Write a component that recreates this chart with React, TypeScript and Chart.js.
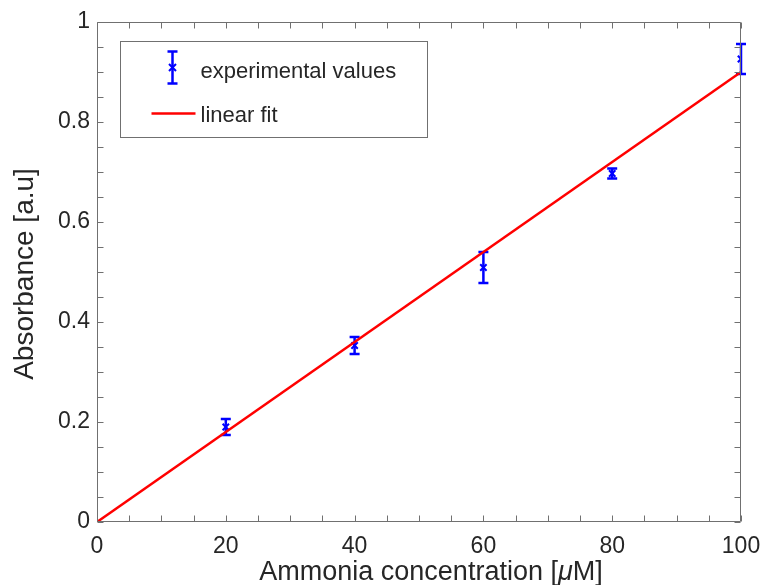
import React, { useEffect, useRef } from "react";
import { Chart, registerables } from "chart.js";

Chart.register(...registerables);

// ---- data ----
const concentrations = [20, 40, 60, 80, 100];
const absorbance = [0.19, 0.353, 0.509, 0.697, 0.926];
const absorbanceErr = [0.016, 0.017, 0.031, 0.01, 0.03];
const fitX = [0, 100];
const fitY = [0, 0.9];
const xTickValues = [0, 20, 40, 60, 80, 100];
const yTickValues = [0, 0.2, 0.4, 0.6, 0.8, 1];
const xMinorStep = 5;
const yMinorStep = 0.05;
const seriesLabels = ["experimental values", "linear fit"];
const xTitleParts = ["Ammonia concentration [", "μ", "M]"];
const yTitle = "Absorbance [a.u]";

const FONT = "'Liberation Sans', Arial, Helvetica, sans-serif";
const TEXT = "#262626";
const BLUE = "#0000ff";
const RED = "#ff0000";
const AXIS = "#707070";

function drawErrorBar(ctx: CanvasRenderingContext2D, x: number, yTop: number, yBot: number, cap: number) {
  ctx.beginPath();
  ctx.moveTo(x, yTop);
  ctx.lineTo(x, yBot);
  ctx.moveTo(x - cap / 2, yTop);
  ctx.lineTo(x + cap / 2, yTop);
  ctx.moveTo(x - cap / 2, yBot);
  ctx.lineTo(x + cap / 2, yBot);
  ctx.stroke();
}

const errorBarPlugin = {
  id: "errorBars",
  beforeDatasetsDraw(chart: any) {
    const { ctx, scales } = chart;
    const xs = scales.x, ys = scales.y;
    ctx.save();
    ctx.strokeStyle = BLUE;
    ctx.lineWidth = 2.5;
    concentrations.forEach((c, i) => {
      const px = xs.getPixelForValue(c);
      const top = ys.getPixelForValue(absorbance[i] + absorbanceErr[i]);
      const bot = ys.getPixelForValue(absorbance[i] - absorbanceErr[i]);
      drawErrorBar(ctx, px, top, bot, 10);
    });
    ctx.restore();
  },
};

const frameLegendPlugin = {
  id: "frameLegend",
  afterDatasetsDraw(chart: any) {
    const { ctx, chartArea, scales } = chart;
    const xs = scales.x, ys = scales.y;
    const L = Math.round(chartArea.left) + 0.5;
    const R = Math.round(chartArea.right) - 0.5;
    const T = Math.round(chartArea.top) + 0.5;
    const B = Math.round(chartArea.bottom) - 0.5;
    const tl = 6;
    ctx.save();
    ctx.strokeStyle = AXIS;
    ctx.lineWidth = 1;
    ctx.beginPath();
    ctx.rect(L, T, R - L, B - T);
    for (let v = xs.min; v <= xs.max + 1e-9; v += xMinorStep) {
      const px = Math.round(xs.getPixelForValue(v)) + 0.5;
      ctx.moveTo(px, B);
      ctx.lineTo(px, B - tl);
      ctx.moveTo(px, T);
      ctx.lineTo(px, T + tl);
    }
    for (let v = ys.min; v <= ys.max + 1e-9; v += yMinorStep) {
      const py = Math.round(ys.getPixelForValue(v)) + 0.5;
      ctx.moveTo(L, py);
      ctx.lineTo(L + tl, py);
      ctx.moveTo(R, py);
      ctx.lineTo(R - tl, py);
    }
    ctx.stroke();
    ctx.restore();
  },
  afterDraw(chart: any) {
    const { ctx, chartArea } = chart;
    ctx.save();
    // legend box
    const lx = chartArea.left + 23.5;
    const ly = chartArea.top + 19.5;
    const lw = 307;
    const lh = 96;
    ctx.fillStyle = "#ffffff";
    ctx.fillRect(lx, ly, lw, lh);
    ctx.strokeStyle = AXIS;
    ctx.lineWidth = 1;
    ctx.strokeRect(lx, ly, lw, lh);

    // entry 1: error bar icon
    const ix = lx + 52;
    ctx.strokeStyle = BLUE;
    ctx.lineWidth = 2.5;
    drawErrorBar(ctx, ix, ly + 10, ly + 42, 10);
    ctx.lineWidth = 2;
    const my = ly + 26;
    ctx.beginPath();
    ctx.moveTo(ix - 3.5, my - 3.5);
    ctx.lineTo(ix + 3.5, my + 3.5);
    ctx.moveTo(ix - 3.5, my + 3.5);
    ctx.lineTo(ix + 3.5, my - 3.5);
    ctx.stroke();

    // entry 2: line icon
    ctx.strokeStyle = RED;
    ctx.lineWidth = 2.5;
    ctx.beginPath();
    ctx.moveTo(lx + 31, ly + 72);
    ctx.lineTo(lx + 75, ly + 72);
    ctx.stroke();

    ctx.fillStyle = TEXT;
    ctx.font = `22px ${FONT}`;
    ctx.textAlign = "left";
    ctx.textBaseline = "alphabetic";
    ctx.fillText(seriesLabels[0], lx + 80, ly + 36);
    ctx.fillText(seriesLabels[1], lx + 80, ly + 80);

    // x axis title
    const fontReg = `27px ${FONT}`;
    const fontItal = `italic 27px ${FONT}`;
    ctx.font = fontReg;
    const w0 = ctx.measureText(xTitleParts[0]).width;
    const w2 = ctx.measureText(xTitleParts[2]).width;
    ctx.font = fontItal;
    const w1 = ctx.measureText(xTitleParts[1]).width;
    const total = w0 + w1 + w2;
    const cx = (chartArea.left + chartArea.right) / 2 + 12;
    let tx = cx - total / 2;
    const ty = chartArea.bottom + 58;
    ctx.font = fontReg;
    ctx.fillText(xTitleParts[0], tx, ty);
    tx += w0;
    ctx.font = fontItal;
    ctx.fillText(xTitleParts[1], tx, ty);
    tx += w1;
    ctx.font = fontReg;
    ctx.fillText(xTitleParts[2], tx, ty);

    // y axis title
    ctx.save();
    ctx.font = `28px ${FONT}`;
    ctx.translate(33, (chartArea.top + chartArea.bottom) / 2 + 2);
    ctx.rotate(-Math.PI / 2);
    ctx.textAlign = "center";
    ctx.fillText(yTitle, 0, 0);
    ctx.restore();

    ctx.restore();
  },
};

export default function App() {
  const ref = useRef<HTMLCanvasElement | null>(null);

  useEffect(() => {
    if (!ref.current) return;
    Chart.defaults.font.family = FONT;
    const chart = new Chart(ref.current, {
      type: "scatter",
      data: {
        datasets: [
          {
            type: "line",
            label: seriesLabels[1],
            data: fitX.map((x, i) => ({ x, y: fitY[i] })),
            borderColor: RED,
            borderWidth: 2.5,
            pointRadius: 0,
            showLine: true,
            fill: false,
            order: 0,
          } as any,
          {
            label: seriesLabels[0],
            data: concentrations.map((x, i) => ({ x, y: absorbance[i] })),
            pointStyle: "crossRot",
            pointRadius: 4.5,
            pointBorderWidth: 2,
            borderColor: BLUE,
            backgroundColor: BLUE,
            order: 1,
          } as any,
        ],
      },
      options: {
        animation: false,
        responsive: false,
        maintainAspectRatio: false,
        layout: { padding: { top: 22, right: 20, left: 0, bottom: 0 } },
        plugins: {
          legend: { display: false },
          title: { display: false },
          tooltip: { enabled: false },
        },
        scales: {
          x: {
            type: "linear",
            min: 0,
            max: 100,
            grid: { display: false, drawTicks: false },
            border: { display: false },
            afterBuildTicks: (s: any) => {
              s.ticks = xTickValues.map((v) => ({ value: v }));
            },
            afterFit: (s: any) => {
              s.height = 63;
              s.paddingLeft = 0;
              s.paddingRight = 0;
            },
            ticks: {
              color: TEXT,
              font: { size: 23, family: FONT },
              padding: 11,
              maxRotation: 0,
              autoSkip: false,
              callback: (v: any) => String(v),
            },
          },
          y: {
            type: "linear",
            min: 0,
            max: 1,
            grid: { display: false, drawTicks: false },
            border: { display: false },
            afterBuildTicks: (s: any) => {
              s.ticks = yTickValues.map((v) => ({ value: v }));
            },
            afterFit: (s: any) => {
              s.width = 97;
              s.paddingTop = 0;
              s.paddingBottom = 0;
            },
            ticks: {
              color: TEXT,
              font: { size: 23, family: FONT },
              padding: 7,
              autoSkip: false,
              callback: (v: any) => String(Math.round(Number(v) * 10) / 10),
            },
          },
        },
      },
      plugins: [errorBarPlugin, frameLegendPlugin],
    });
    return () => chart.destroy();
  }, []);

  return (
    <div style={{ position: "fixed", left: 0, top: 0, width: 761, height: 585, background: "#fff" }}>
      <canvas ref={ref} width={761} height={585} style={{ display: "block", width: 761, height: 585 }} />
    </div>
  );
}
